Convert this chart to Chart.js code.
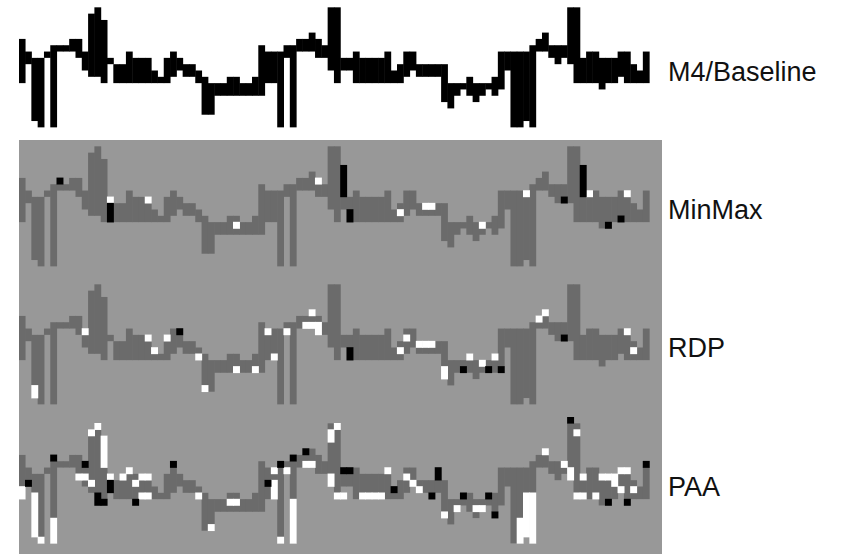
<!DOCTYPE html>
<html>
<head>
<meta charset="utf-8">
<script src="https://cdn.jsdelivr.net/npm/chart.js@4.4.0/dist/chart.umd.min.js"></script>
<style>
  body { margin: 0; background: #fff; width: 868px; height: 554px; overflow: hidden; position: relative;
         font-family: "Liberation Sans", Arial, sans-serif; }
  .panel { position: absolute; left: 19px; width: 643px; height: 139px; }
  .label { position: absolute; left: 668px; font-size: 27px; line-height: 30px; color: #111; white-space: nowrap; }
</style>
</head>
<body>
<div class="panel" style="top:1px"><canvas id="m4" width="643" height="139"></canvas></div>
<div class="panel" style="top:140px"><canvas id="minmax" width="643" height="139"></canvas></div>
<div class="panel" style="top:278px"><canvas id="rdp" width="643" height="139"></canvas></div>
<div class="panel" style="top:417px"><canvas id="paa" width="643" height="139"></canvas></div>
<div class="label" style="top:57px">M4/Baseline</div>
<div class="label" style="top:195px">MinMax</div>
<div class="label" style="top:333px">RDP</div>
<div class="label" style="top:472px">PAA</div>
<script>
// pixel columns of the raster (102 wide, line drawn in the first 100)
const columns = Array.from({length: 102}, (_, i) => i);

// M4 baseline: first and last lit pixel row of each column (row 0 = top)
const m4Top = [
  6, 8, 9, 9, 8, 7, 7, 7, 6, 6,
  8, 2, 1, 3, 9, 10, 10, 8, 9, 9,
  9, 11, 12, 9, 8, 9, 10, 10, 11, 12,
  13, 13, 13, 12, 12, 13, 13, 12, 7, 8,
  8, 8, 7, 7, 6, 6, 5, 6, 7, 1,
  1, 9, 9, 8, 9, 9, 9, 9, 8, 11,
  10, 8, 8, 10, 10, 10, 10, 10, 13, 13,
  13, 12, 13, 13, 13, 12, 8, 8, 8, 8,
  8, 7, 6, 5, 7, 7, 7, 1, 1, 9,
  8, 8, 9, 9, 9, 8, 8, 10, 11, 8
];
const m4Bottom = [
  12, 9, 18, 19, 8, 19, 7, 7, 7, 8,
  10, 11, 11, 12, 9, 12, 12, 12, 12, 12,
  12, 12, 12, 12, 11, 10, 11, 11, 12, 17,
  17, 14, 14, 14, 14, 14, 14, 14, 14, 12,
  12, 19, 8, 19, 7, 7, 7, 8, 8, 10,
  12, 10, 10, 12, 12, 12, 12, 12, 12, 12,
  12, 11, 10, 11, 11, 11, 11, 15, 16, 14,
  13, 14, 15, 14, 13, 14, 13, 10, 19, 19,
  18, 19, 7, 7, 8, 9, 8, 9, 12, 12,
  12, 12, 13, 12, 12, 11, 12, 12, 12, 12
];

// differing pixels per method: [column, first row, last row]
const minmaxWhite = [[14,9,9],[20,9,9],[34,13,13],[47,6,6],[60,11,11],[64,10,10],[65,10,10],
  [73,13,13],[80,8,8],[90,8,8],[96,8,8]];
const minmaxBlack = [[6,6,6],[14,10,12],[51,4,8],[52,11,12],[86,9,9],[89,4,8],[93,13,13],[95,12,12]];

const rdpWhite = [[2,17,18],[10,8,8],[20,9,9],[21,11,11],[23,9,9],[28,12,12],[29,17,17],[34,14,14],
  [37,14,14],[39,8,8],[40,12,12],[42,8,8],[46,5,5],[45,7,7],[46,7,7],[47,7,8],[60,11,11],[61,9,9],
  [63,10,10],[64,10,10],[65,10,10],[67,14,15],[71,12,12],[73,13,13],[75,12,12],[82,6,6],[83,5,5],
  [96,8,8],[97,11,11]];
const rdpBlack = [[25,8,8],[52,11,12],[70,14,14],[74,14,14],[76,14,14],[86,9,9]];

const paaWhite = [[0,11,12],[2,12,18],[3,19,19],[5,16,19],[9,9,9],[10,9,9],[11,2,2],[11,10,10],
  [12,1,1],[13,3,7],[14,9,9],[16,9,9],[17,8,8],[18,10,10],[19,9,9],[20,9,9],[19,12,12],[20,12,12],
  [28,12,12],[30,17,17],[33,13,13],[34,13,13],[40,8,8],[40,10,12],[41,19,19],[42,8,8],[43,13,19],
  [45,7,7],[46,7,7],[49,2,3],[49,9,10],[50,1,1],[50,12,12],[51,12,12],[54,12,12],[55,12,12],
  [56,12,12],[57,12,12],[58,8,8],[61,9,9],[62,10,10],[63,11,11],[67,15,15],[69,14,14],[72,14,14],
  [73,14,14],[79,16,19],[80,12,18],[81,12,19],[83,5,5],[86,7,7],[87,8,9],[88,2,2],[89,9,9],
  [88,12,12],[89,12,12],[91,12,12],[92,9,9],[93,9,9],[94,9,10],[95,8,8],[96,8,8],[95,11,11],[97,11,11]];
const paaBlack = [[1,10,10],[5,6,6],[10,7,7],[12,12,13],[13,13,13],[14,10,11],[18,13,13],[24,7,7],
  [39,10,10],[41,7,7],[43,6,6],[45,5,5],[51,8,8],[52,8,8],[59,11,11],[65,12,12],[66,8,9],[70,12,12],
  [74,12,12],[75,15,15],[87,0,0],[93,13,13],[96,13,13],[99,7,7]];

const panelBg = {
  id: 'panelBg',
  beforeDraw(chart, args, opts) {
    if (!opts.color) return;
    const {ctx, chartArea} = chart;
    ctx.save();
    ctx.fillStyle = opts.color;
    ctx.fillRect(chartArea.left, chartArea.top, chartArea.width, chartArea.height);
    ctx.restore();
  }
};

// higher order is drawn first, so the line sits under the pixel marks
function lineSet(color) {
  return {
    data: m4Top.map((t, i) => [t, m4Bottom[i] + 1]),
    backgroundColor: color,
    borderWidth: 0,
    grouped: false,
    order: 3,
    barPercentage: 1.08,
    categoryPercentage: 1
  };
}

function pixelSet(list, color, order) {
  return {
    data: list.map(p => ({x: p[0], y: [p[1], p[2] + 1]})),
    backgroundColor: color,
    borderWidth: 0,
    grouped: false,
    order: order,
    barPercentage: 1,
    categoryPercentage: 1
  };
}

function makePanel(id, datasets, bg) {
  new Chart(document.getElementById(id), {
    type: 'bar',
    data: {labels: columns, datasets: datasets},
    options: {
      responsive: false,
      animation: false,
      events: [],
      layout: {padding: 0},
      plugins: {legend: {display: false}, tooltip: {enabled: false}, panelBg: {color: bg}},
      scales: {
        x: {type: 'category', display: false, offset: true},
        y: {type: 'linear', display: false, min: 0, max: 22, reverse: true}
      }
    },
    plugins: [panelBg]
  });
}

const lineGray = '#6b6b6b';
const bgGray = '#989898';

makePanel('m4', [lineSet('#000000')], null);
makePanel('minmax', [lineSet(lineGray), pixelSet(minmaxWhite, '#ffffff', 2), pixelSet(minmaxBlack, '#000000', 1)], bgGray);
makePanel('rdp', [lineSet(lineGray), pixelSet(rdpWhite, '#ffffff', 2), pixelSet(rdpBlack, '#000000', 1)], bgGray);
makePanel('paa', [lineSet(lineGray), pixelSet(paaWhite, '#ffffff', 2), pixelSet(paaBlack, '#000000', 1)], bgGray);
</script>
</body>
</html>
